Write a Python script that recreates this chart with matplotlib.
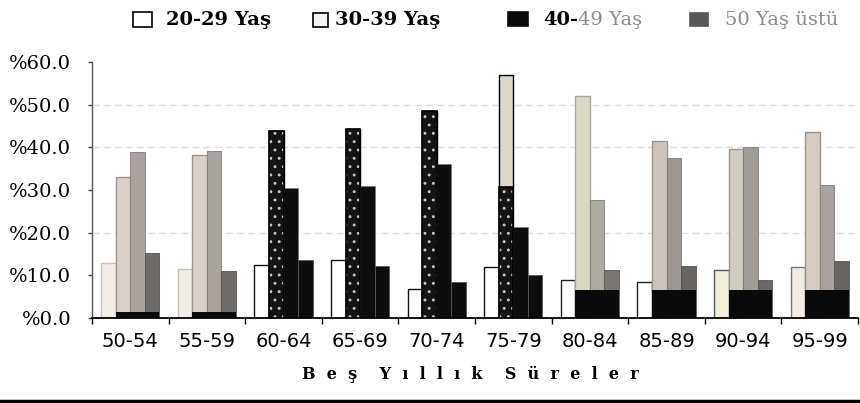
import numpy as np
import matplotlib
matplotlib.use("Agg")
import matplotlib.pyplot as plt
from matplotlib.patches import Rectangle
from matplotlib.lines import Line2D

# ---------------- data ----------------
categories = ['50-54', '55-59', '60-64', '65-69', '70-74',
              '75-79', '80-84', '85-89', '90-94', '95-99']
series_names = ['20-29 Yaş', '30-39 Yaş', '40-49 Yaş', '50 Yaş üstü']
s_20_29 = [12.8, 11.6, 12.4, 13.6, 6.8, 11.9, 8.9, 8.4, 11.3, 11.9]
s_30_39 = [33.1, 38.2, 43.8, 44.2, 48.6, 57.0, 52.1, 41.4, 39.6, 43.7]
s_40_49 = [38.8, 39.2, 30.5, 30.9, 36.1, 21.3, 27.7, 37.6, 40.1, 31.2]
s_50_up = [15.3, 11.0, 13.6, 12.2, 8.4, 10.0, 11.3, 12.1, 8.9, 13.3]
# dark (print) layers visible in the scan
speckled_30_39 = [0, 0, 43.8, 44.2, 48.6, 30.8, 0, 0, 0, 0]
dark_base = [1.5, 1.5, 0, 0, 0, 0, 6.6, 6.6, 6.6, 6.6]
y_ticks = [0, 10, 20, 30, 40, 50, 60]
grid_levels = [20, 40, 50]
x_title = 'Beş Yıllık Süreler'

# ---------------- styles ----------------
W, H, DPI = 860, 403, 100
fig = plt.figure(figsize=(W / DPI, H / DPI), dpi=DPI)
plt.rcParams['hatch.linewidth'] = 0.9

def fx(px):
    return px / W

def fy(py):
    return 1 - py / H

ax = fig.add_axes([fx(92), fy(318), fx(858) - fx(92), fy(62) - fy(318)])

face1 = ['#f2ede6', '#f2ede6', 'white', 'white', 'white', 'white', 'white', 'white', '#f1efdc', '#f3ece3']
edge1 = ['#c8c0b8', '#c8c0b8', '#111', '#111', '#111', '#111', '#222', '#222', '#555', '#777']
face2 = ['#d9d1c9', '#d9d1c9', '#111', '#111', '#111', '#dcd8c8', '#d9d9c2', '#cbc4bc', '#d2cdc3', '#d6cbc0']
edge2 = ['#9a948e', '#9a948e', '#000', '#000', '#000', '#000', '#a8a89a', '#9a948e', '#9a948e', '#9a948e']
face3 = ['#aaa39d', '#aaa39d', '#0d0d0d', '#0d0d0d', '#0d0d0d', '#0d0d0d', '#adaaa2', '#9c9691', '#a29c98', '#aaa29c']
face4 = ['#6f6b69', '#6f6b69', '#0d0d0d', '#0d0d0d', '#0d0d0d', '#0d0d0d', '#7a7672', '#696563', '#6c6868', '#686462']

x = np.arange(len(categories))
w = 0.19
offs = np.array([-1.5, -0.5, 0.5, 1.5]) * w

for lvl in grid_levels:
    ax.axhline(lvl, color='#dddddd', lw=1.0, ls=(0, (5, 3)), zorder=0)

ax.bar(x + offs[0], s_20_29, w, color=face1, edgecolor=edge1, linewidth=1.0, zorder=2)
ax.bar(x + offs[1], s_30_39, w, color=face2, edgecolor=edge2, linewidth=1.0, zorder=2)
ax.bar(x + offs[2], s_40_49, w, color=face3, edgecolor='#807a76', linewidth=0.6, zorder=2)
ax.bar(x + offs[3], s_50_up, w, color=face4, edgecolor='#555', linewidth=0.6, zorder=2)

# speckled black print layer on 30-39
ax.bar(x + offs[1], speckled_30_39, w, color='#141414', edgecolor='#c8c8c8',
       hatch='..', linewidth=0, zorder=3)
ax.bar(x + offs[1], speckled_30_39, w, fill=False, edgecolor='black', linewidth=1.2, zorder=4)
# dark base block across bars 2-4
ax.bar(x + 0.5 * w, dark_base, 3 * w, color='#0a0a0a', linewidth=0, zorder=3)

ax.set_xlim(-0.5, len(categories) - 0.5)
ax.set_ylim(0, 60)
ax.set_yticks(y_ticks)
ax.set_yticklabels(['%{:.1f}'.format(v) for v in y_ticks],
                   fontfamily='DejaVu Serif', fontsize=14, color='black')
ax.set_xticks(x)
ax.set_xticklabels(categories, fontfamily='DejaVu Sans', fontsize=14, color='black')
ax.set_xticks(np.arange(len(categories) + 1) - 0.5, minor=True)
ax.tick_params(axis='x', which='major', length=0, pad=10)
ax.tick_params(axis='x', which='minor', length=4, width=1, direction='out', color='black')
ax.tick_params(axis='y', length=3, width=1, direction='out', pad=12, color='#444')

for s in ['top', 'right']:
    ax.spines[s].set_visible(False)
ax.spines['left'].set_color('#555')
ax.spines['left'].set_linewidth(1.0)
ax.spines['bottom'].set_color('black')
ax.spines['bottom'].set_linewidth(1.3)

# x axis title, letter-spaced as in the print
spaced = '    '.join('  '.join(word) for word in x_title.split(' '))
fig.text(fx(470), fy(374), spaced, ha='center', va='center',
         fontfamily='DejaVu Serif', fontweight='bold', fontsize=11.5, color='black')

# ---------------- legend (manual) ----------------
leg_boxes = [
    (133, 12, 19, 15, 'white', 'black', None),
    (313, 13, 15, 14, '#f4f4f4', 'black', None),
    (508, 12, 20, 14, '#0a0a0a', '#0a0a0a', None),
    (690, 13, 18, 13, '#595959', '#595959', None),
]
for (bx, by, bw, bh, fc, ec, hatch) in leg_boxes:
    r = Rectangle((fx(bx), fy(by + bh)), bw / W, bh / H, transform=fig.transFigure,
                  facecolor=fc, edgecolor=ec, linewidth=1.2, hatch=hatch)
    fig.add_artist(r)

leg_kw = dict(fontfamily='DejaVu Serif', fontsize=14, va='center', ha='left')
fig.text(fx(166), fy(20), series_names[0], fontweight='bold', color='black', **leg_kw)
fig.text(fx(335), fy(20), series_names[1], fontweight='bold', color='black', **leg_kw)
t40 = fig.text(fx(543), fy(20), series_names[2][:3], fontweight='bold', color='black', **leg_kw)
ax.annotate(series_names[2][3:], xy=(1, 0), xycoords=t40, va='bottom', ha='left',
            fontfamily='DejaVu Serif', fontsize=14, color='#8c8c8c', annotation_clip=False)
fig.text(fx(725), fy(20), series_names[3], fontweight='normal', color='#8c8c8c', **leg_kw)

# bottom rule of the scanned page
fig.add_artist(Line2D([0, 1], [fy(401), fy(401)], transform=fig.transFigure,
                      color='black', lw=2.5))

fig.savefig('out.png', dpi=DPI)
